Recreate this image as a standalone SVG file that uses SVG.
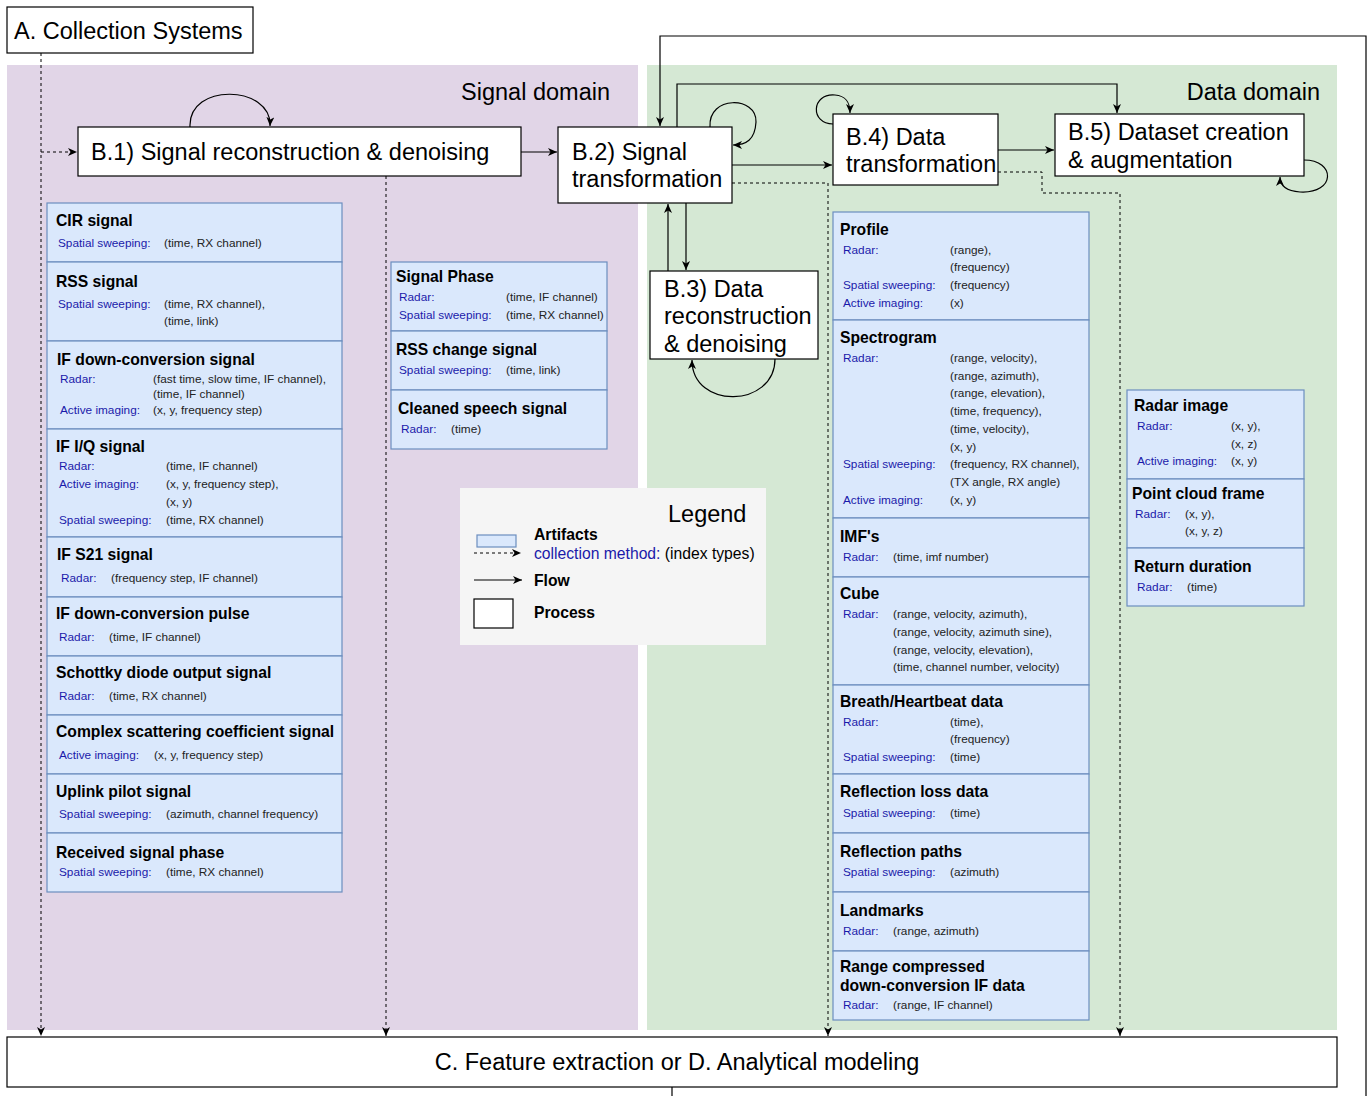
<svg xmlns="http://www.w3.org/2000/svg" width="1368" height="1096" viewBox="0 0 1368 1096">
<defs>
<marker id="ah" markerWidth="10" markerHeight="8" refX="9" refY="4" orient="auto" markerUnits="userSpaceOnUse">
<path d="M0,0 L9,4 L0,8 L2.5,4 z" fill="#000"/>
</marker>
<style>
.proc{fill:#fff;stroke:#000;stroke-width:1.2}
.art{fill:#dae8fc;stroke:#6c8ebf;stroke-width:1.2}
.big{font-family:"Liberation Sans",Arial,sans-serif;font-size:23.5px;fill:#000}
.ttl{font-family:"Liberation Sans",Arial,sans-serif;font-size:15.7px;font-weight:bold;fill:#000}
.lab{font-family:"Liberation Sans",Arial,sans-serif;font-size:11.8px;fill:#1a1aaa}
.val{font-family:"Liberation Sans",Arial,sans-serif;font-size:11.8px;fill:#222}
.ln{fill:none;stroke:#000;stroke-width:1.2}
.dl{fill:none;stroke:#000;stroke-width:1;stroke-dasharray:3,3}
.lg{font-family:"Liberation Sans",Arial,sans-serif;font-size:15.7px;fill:#000}
</style>
</defs>
<rect width="1368" height="1096" fill="#fff"/>

<g id="signal-domain">
<rect x="7" y="65" width="631" height="965" fill="#e1d5e7"/>
<text class="big" x="610" y="100" text-anchor="end">Signal domain</text>
</g>
<g id="data-domain">
<rect x="647" y="65" width="690" height="965" fill="#d5e8d4"/>
<text class="big" x="1320" y="100" text-anchor="end">Data domain</text>
</g>

<g id="connectors">
<path class="dl" d="M41,53 V1036" marker-end="url(#ah)"/>
<path class="dl" d="M41,152 H77" marker-end="url(#ah)"/>
<path class="dl" d="M386,176 V1036" marker-end="url(#ah)"/>
<path class="ln" d="M521,152 H557" marker-end="url(#ah)"/>
<path class="ln" d="M190,127 C188,82 272,85 270,126" marker-end="url(#ah)"/>
<path class="ln" d="M672,1087 V1096"/>
<path class="ln" d="M1366,1096 V36 H660 V126" marker-end="url(#ah)"/>
<path class="ln" d="M677,127 V84 H1117 V113" marker-end="url(#ah)"/>
<path class="ln" d="M710,127 C708,95 757,96 756,122 C755,140 746,145 733,145" marker-end="url(#ah)"/>
<path class="ln" d="M732,165 L832,165" marker-end="url(#ah)"/>
<path class="dl" d="M732,183 H828 V1036" marker-end="url(#ah)"/>
<path class="ln" d="M686,203 V270" marker-end="url(#ah)"/>
<path class="ln" d="M668,271 V204" marker-end="url(#ah)"/>
<path class="ln" d="M775,359 C775,408 692,410 692,360" marker-end="url(#ah)"/>
<path class="ln" d="M833,124 C810,124 811,93 835,95 C846,96 850,102 850,113" marker-end="url(#ah)"/>
<path class="ln" d="M998,150 H1054" marker-end="url(#ah)"/>
<path class="dl" d="M998,172 H1042 V193 H1120 V1036" marker-end="url(#ah)"/>
<path class="ln" d="M1304,160 C1336,160 1336,194 1300,192 C1286,191 1280,186 1280,177" marker-end="url(#ah)"/>
</g>

<g id="node-A">
<rect class="proc" x="7" y="7" width="246" height="46"/>
<text class="big" x="14" y="39">A. Collection Systems</text>
</g>
<g id="node-B1">
<rect class="proc" x="78" y="127" width="443" height="49"/>
<text class="big" x="91" y="160">B.1) Signal reconstruction &amp; denoising</text>
</g>
<g id="node-B2">
<rect class="proc" x="558" y="127" width="174" height="76"/>
<text class="big" x="572" y="160">B.2) Signal</text>
<text class="big" x="572" y="187">transformation</text>
</g>
<g id="node-B3">
<rect class="proc" x="650" y="271" width="168" height="88"/>
<text class="big" x="664" y="297">B.3) Data</text>
<text class="big" x="664" y="324">reconstruction</text>
<text class="big" x="664" y="352">&amp; denoising</text>
</g>
<g id="node-B4">
<rect class="proc" x="833" y="114" width="165" height="71"/>
<text class="big" x="846" y="145">B.4) Data</text>
<text class="big" x="846" y="172">transformation</text>
</g>
<g id="node-B5">
<rect class="proc" x="1055" y="114" width="249" height="62"/>
<text class="big" x="1068" y="140">B.5) Dataset creation</text>
<text class="big" x="1068" y="168">&amp; augmentation</text>
</g>
<g id="node-C">
<rect class="proc" x="7" y="1037" width="1330" height="50"/>
<text class="big" x="677" y="1070" text-anchor="middle">C. Feature extraction or D. Analytical modeling</text>
</g>

<g id="art-cir">
<rect class="art" x="47" y="203" width="295" height="59"/>
<text class="ttl" x="56" y="226">CIR signal</text>
<text class="lab" x="58" y="247">Spatial sweeping:</text><text class="val" x="164" y="247">(time, RX channel)</text>
</g>
<g id="art-rss">
<rect class="art" x="47" y="262" width="295" height="79"/>
<text class="ttl" x="56" y="287">RSS signal</text>
<text class="lab" x="58" y="308">Spatial sweeping:</text><text class="val" x="164" y="308">(time, RX channel),</text>
<text class="val" x="164" y="325">(time, link)</text>
</g>
<g id="art-ifdc">
<rect class="art" x="47" y="341" width="295" height="88"/>
<text class="ttl" x="57" y="365">IF down-conversion signal</text>
<text class="lab" x="60" y="383">Radar:</text><text class="val" x="153" y="383">(fast time, slow time, IF channel),</text>
<text class="val" x="153" y="398">(time, IF channel)</text>
<text class="lab" x="60" y="414">Active imaging:</text><text class="val" x="153" y="414">(x, y, frequency step)</text>
</g>
<g id="art-iq">
<rect class="art" x="47" y="429" width="295" height="108"/>
<text class="ttl" x="56" y="452">IF I/Q signal</text>
<text class="lab" x="59" y="470">Radar:</text><text class="val" x="166" y="470">(time, IF channel)</text>
<text class="lab" x="59" y="488">Active imaging:</text><text class="val" x="166" y="488">(x, y, frequency step),</text>
<text class="val" x="166" y="506">(x, y)</text>
<text class="lab" x="59" y="524">Spatial sweeping:</text><text class="val" x="166" y="524">(time, RX channel)</text>
</g>
<g id="art-s21">
<rect class="art" x="47" y="537" width="295" height="60"/>
<text class="ttl" x="57" y="560">IF S21 signal</text>
<text class="lab" x="61" y="582">Radar:</text><text class="val" x="111" y="582">(frequency step, IF channel)</text>
</g>
<g id="art-pulse">
<rect class="art" x="47" y="597" width="295" height="59"/>
<text class="ttl" x="56" y="619">IF down-conversion pulse</text>
<text class="lab" x="59" y="641">Radar:</text><text class="val" x="109" y="641">(time, IF channel)</text>
</g>
<g id="art-schottky">
<rect class="art" x="47" y="656" width="295" height="59"/>
<text class="ttl" x="56" y="678">Schottky diode output signal</text>
<text class="lab" x="59" y="700">Radar:</text><text class="val" x="109" y="700">(time, RX channel)</text>
</g>
<g id="art-complex">
<rect class="art" x="47" y="715" width="295" height="59"/>
<text class="ttl" x="56" y="737">Complex scattering coefficient signal</text>
<text class="lab" x="59" y="759">Active imaging:</text><text class="val" x="154" y="759">(x, y, frequency step)</text>
</g>
<g id="art-uplink">
<rect class="art" x="47" y="774" width="295" height="59"/>
<text class="ttl" x="56" y="797">Uplink pilot signal</text>
<text class="lab" x="59" y="818">Spatial sweeping:</text><text class="val" x="166" y="818">(azimuth, channel frequency)</text>
</g>
<g id="art-rxphase">
<rect class="art" x="47" y="833" width="295" height="59"/>
<text class="ttl" x="56" y="858">Received signal phase</text>
<text class="lab" x="59" y="876">Spatial sweeping:</text><text class="val" x="166" y="876">(time, RX channel)</text>
</g>

<g id="art-sigphase">
<rect class="art" x="391" y="262" width="216" height="69"/>
<text class="ttl" x="396" y="282">Signal Phase</text>
<text class="lab" x="399" y="301">Radar:</text><text class="val" x="506" y="301">(time, IF channel)</text>
<text class="lab" x="399" y="319">Spatial sweeping:</text><text class="val" x="506" y="319">(time, RX channel)</text>
</g>
<g id="art-rsschange">
<rect class="art" x="391" y="331" width="216" height="59"/>
<text class="ttl" x="396" y="355">RSS change signal</text>
<text class="lab" x="399" y="374">Spatial sweeping:</text><text class="val" x="506" y="374">(time, link)</text>
</g>
<g id="art-speech">
<rect class="art" x="391" y="390" width="216" height="59"/>
<text class="ttl" x="398" y="414">Cleaned speech signal</text>
<text class="lab" x="401" y="433">Radar:</text><text class="val" x="451" y="433">(time)</text>
</g>

<g id="legend">
<rect x="460" y="488" width="306" height="157" fill="#f5f5f5"/>
<text class="big" x="668" y="522">Legend</text>
<rect class="art" x="477" y="535" width="39" height="12"/>
<text class="lg" x="534" y="540" font-weight="bold">Artifacts</text>
<path class="dl" d="M474,553 H521" marker-end="url(#ah)"/>
<text class="lg" x="534" y="559"><tspan fill="#1a1aaa">collection method:</tspan> (index types)</text>
<path class="ln" d="M474,580 H522" marker-end="url(#ah)"/>
<text class="lg" x="534" y="586" font-weight="bold">Flow</text>
<rect class="proc" x="474" y="599" width="39" height="29"/>
<text class="lg" x="534" y="618" font-weight="bold">Process</text>
</g>

<g id="art-profile">
<rect class="art" x="833" y="212" width="256" height="108"/>
<text class="ttl" x="840" y="235">Profile</text>
<text class="lab" x="843" y="254">Radar:</text><text class="val" x="950" y="254">(range),</text>
<text class="val" x="950" y="271">(frequency)</text>
<text class="lab" x="843" y="289">Spatial sweeping:</text><text class="val" x="950" y="289">(frequency)</text>
<text class="lab" x="843" y="307">Active imaging:</text><text class="val" x="950" y="307">(x)</text>
</g>
<g id="art-spectrogram">
<rect class="art" x="833" y="320" width="256" height="198"/>
<text class="ttl" x="840" y="343">Spectrogram</text>
<text class="lab" x="843" y="362">Radar:</text><text class="val" x="950" y="362">(range, velocity),</text>
<text class="val" x="950" y="380">(range, azimuth),</text>
<text class="val" x="950" y="397">(range, elevation),</text>
<text class="val" x="950" y="415">(time, frequency),</text>
<text class="val" x="950" y="433">(time, velocity),</text>
<text class="val" x="950" y="451">(x, y)</text>
<text class="lab" x="843" y="468">Spatial sweeping:</text><text class="val" x="950" y="468">(frequency, RX channel),</text>
<text class="val" x="950" y="486">(TX angle, RX angle)</text>
<text class="lab" x="843" y="504">Active imaging:</text><text class="val" x="950" y="504">(x, y)</text>
</g>
<g id="art-imf">
<rect class="art" x="833" y="518" width="256" height="59"/>
<text class="ttl" x="840" y="542">IMF's</text>
<text class="lab" x="843" y="561">Radar:</text><text class="val" x="893" y="561">(time, imf number)</text>
</g>
<g id="art-cube">
<rect class="art" x="833" y="577" width="256" height="108"/>
<text class="ttl" x="840" y="599">Cube</text>
<text class="lab" x="843" y="618">Radar:</text><text class="val" x="893" y="618">(range, velocity, azimuth),</text>
<text class="val" x="893" y="636">(range, velocity, azimuth sine),</text>
<text class="val" x="893" y="654">(range, velocity, elevation),</text>
<text class="val" x="893" y="671">(time, channel number, velocity)</text>
</g>
<g id="art-breath">
<rect class="art" x="833" y="685" width="256" height="89"/>
<text class="ttl" x="840" y="707">Breath/Heartbeat data</text>
<text class="lab" x="843" y="726">Radar:</text><text class="val" x="950" y="726">(time),</text>
<text class="val" x="950" y="743">(frequency)</text>
<text class="lab" x="843" y="761">Spatial sweeping:</text><text class="val" x="950" y="761">(time)</text>
</g>
<g id="art-refloss">
<rect class="art" x="833" y="774" width="256" height="59"/>
<text class="ttl" x="840" y="797">Reflection loss data</text>
<text class="lab" x="843" y="817">Spatial sweeping:</text><text class="val" x="950" y="817">(time)</text>
</g>
<g id="art-refpaths">
<rect class="art" x="833" y="833" width="256" height="59"/>
<text class="ttl" x="840" y="857">Reflection paths</text>
<text class="lab" x="843" y="876">Spatial sweeping:</text><text class="val" x="950" y="876">(azimuth)</text>
</g>
<g id="art-landmarks">
<rect class="art" x="833" y="892" width="256" height="59"/>
<text class="ttl" x="840" y="916">Landmarks</text>
<text class="lab" x="843" y="935">Radar:</text><text class="val" x="893" y="935">(range, azimuth)</text>
</g>
<g id="art-rangecomp">
<rect class="art" x="833" y="951" width="256" height="69"/>
<text class="ttl" x="840" y="972">Range compressed</text>
<text class="ttl" x="840" y="991">down-conversion IF data</text>
<text class="lab" x="843" y="1009">Radar:</text><text class="val" x="893" y="1009">(range, IF channel)</text>
</g>

<g id="art-radarimg">
<rect class="art" x="1127" y="390" width="177" height="89"/>
<text class="ttl" x="1134" y="411">Radar image</text>
<text class="lab" x="1137" y="430">Radar:</text><text class="val" x="1231" y="430">(x, y),</text>
<text class="val" x="1231" y="448">(x, z)</text>
<text class="lab" x="1137" y="465">Active imaging:</text><text class="val" x="1231" y="465">(x, y)</text>
</g>
<g id="art-pointcloud">
<rect class="art" x="1127" y="479" width="177" height="69"/>
<text class="ttl" x="1132" y="499">Point cloud frame</text>
<text class="lab" x="1135" y="518">Radar:</text><text class="val" x="1185" y="518">(x, y),</text>
<text class="val" x="1185" y="535">(x, y, z)</text>
</g>
<g id="art-return">
<rect class="art" x="1127" y="548" width="177" height="58"/>
<text class="ttl" x="1134" y="572">Return duration</text>
<text class="lab" x="1137" y="591">Radar:</text><text class="val" x="1187" y="591">(time)</text>
</g>
</svg>
